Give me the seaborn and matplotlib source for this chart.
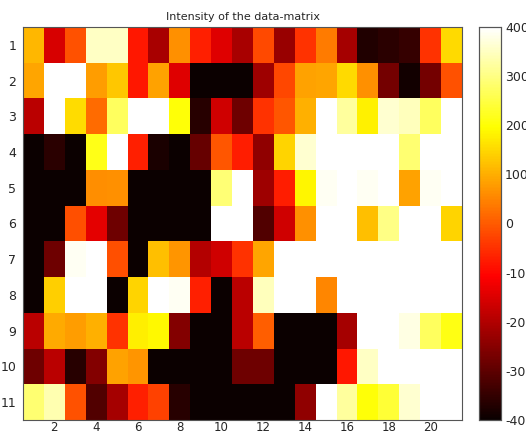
import numpy as np
import matplotlib
matplotlib.use("Agg")
import matplotlib.pyplot as plt
import seaborn as sns

title = "Intensity of the data-matrix"
row_labels = [str(i) for i in range(1, 12)]
col_labels = [str(i) for i in range(1, 22)]

r1 = [110, -155, -10, 350, 350, -80, -210, 65, -70, -145, -210, -20, -230, -50, 40, -215, -375, -360, -350, -50, 150]
r2 = [90, 400, 400, 80, 130, -80, 85, -145, -400, -400, -400, -225, -25, 85, 90, 150, 65, -275, -390, -275, -10]
r3 = [-190, 400, 155, 20, 270, 400, 400, 200, -365, -165, -280, -50, -5, 100, 400, 320, 180, 360, 345, 270, 400]
r4 = [-400, -360, -400, 215, 400, -70, -380, -400, -290, -5, -75, -240, 145, 360, 400, 400, 400, 400, 285, 400, 400]
r5 = [-400, -400, -400, 60, 65, -400, -400, -400, -400, 290, 400, -225, -75, 185, 390, 400, 390, 400, 85, 390, 400]
r6 = [-400, -400, -15, -140, -280, -400, -400, -400, -400, 400, 400, -315, -165, 65, 400, 400, 120, 300, 400, 400, 145]
r7 = [-400, -280, 390, 400, -15, -400, 120, 70, -200, -165, -50, 90, 400, 400, 400, 400, 400, 400, 400, 400, 400]
r8 = [-400, 140, 400, 400, -400, 145, 400, 390, -70, -400, -190, 345, 400, 400, 50, 400, 400, 400, 400, 400, 400]
r9 = [-190, 95, 80, 100, -50, 175, 190, -255, -400, -400, -190, 5, -400, -400, -400, -215, 400, 400, 375, 270, 210]
r10 = [-280, -190, -365, -255, 85, 70, -400, -400, -400, -400, -280, -280, -400, -400, -400, -80, 350, 400, 400, 400, 400]
r11 = [285, 335, -10, -315, -215, -70, -30, -365, -400, -400, -400, -400, -400, -240, 400, 320, 200, 240, 360, 400, 400]

data = np.array([r1, r2, r3, r4, r5, r6, r7, r8, r9, r10, r11], dtype=float)
vmin, vmax = -400, 400
cbar_ticks = [-400, -300, -200, -100, 0, 100, 200, 300, 400]
xtick_labels = [2, 4, 6, 8, 10, 12, 14, 16, 18, 20]

sns.set_style("white")
plt.rcParams['font.family'] = ['DejaVu Sans']

W, H = 526, 434
fig = plt.figure(figsize=(W / 100, H / 100), dpi=100)
ax = fig.add_axes([23 / W, (H - 420) / H, (462 - 23) / W, (420 - 27) / H])
cax = fig.add_axes([479 / W, (H - 420) / H, (501 - 479) / W, (420 - 27) / H])

sns.heatmap(data, ax=ax, cmap="hot", vmin=vmin, vmax=vmax, cbar=True, cbar_ax=cax,
            xticklabels=False, yticklabels=False,
            cbar_kws={"ticks": cbar_ticks})

ax.set_xticks([v - 0.5 for v in xtick_labels])
ax.set_xticklabels([str(v) for v in xtick_labels], fontsize=8.5)
ax.set_yticks(np.arange(len(row_labels)) + 0.5)
ax.set_yticklabels(row_labels, fontsize=9, rotation=0)
ax.tick_params(axis="both", direction="in", length=4, width=0.6, color="#333333",
               top=True, right=True, bottom=True, left=True)
ax.tick_params(axis="x", pad=1)
ax.tick_params(axis="y", pad=5)
for s in ax.spines.values():
    s.set_visible(True)
    s.set_linewidth(0.8)
    s.set_color("#555555")
ax.set_title(title, fontsize=8, pad=5)

cax.tick_params(axis="y", direction="in", length=3, width=0.6, color="#333333",
                left=True, right=True, labelsize=9, pad=3)
cax.set_yticklabels([str(t) for t in cbar_ticks])
for s in cax.spines.values():
    s.set_visible(True)
    s.set_linewidth(0.8)
    s.set_color("#555555")

fig.savefig("out.png", dpi=100)
